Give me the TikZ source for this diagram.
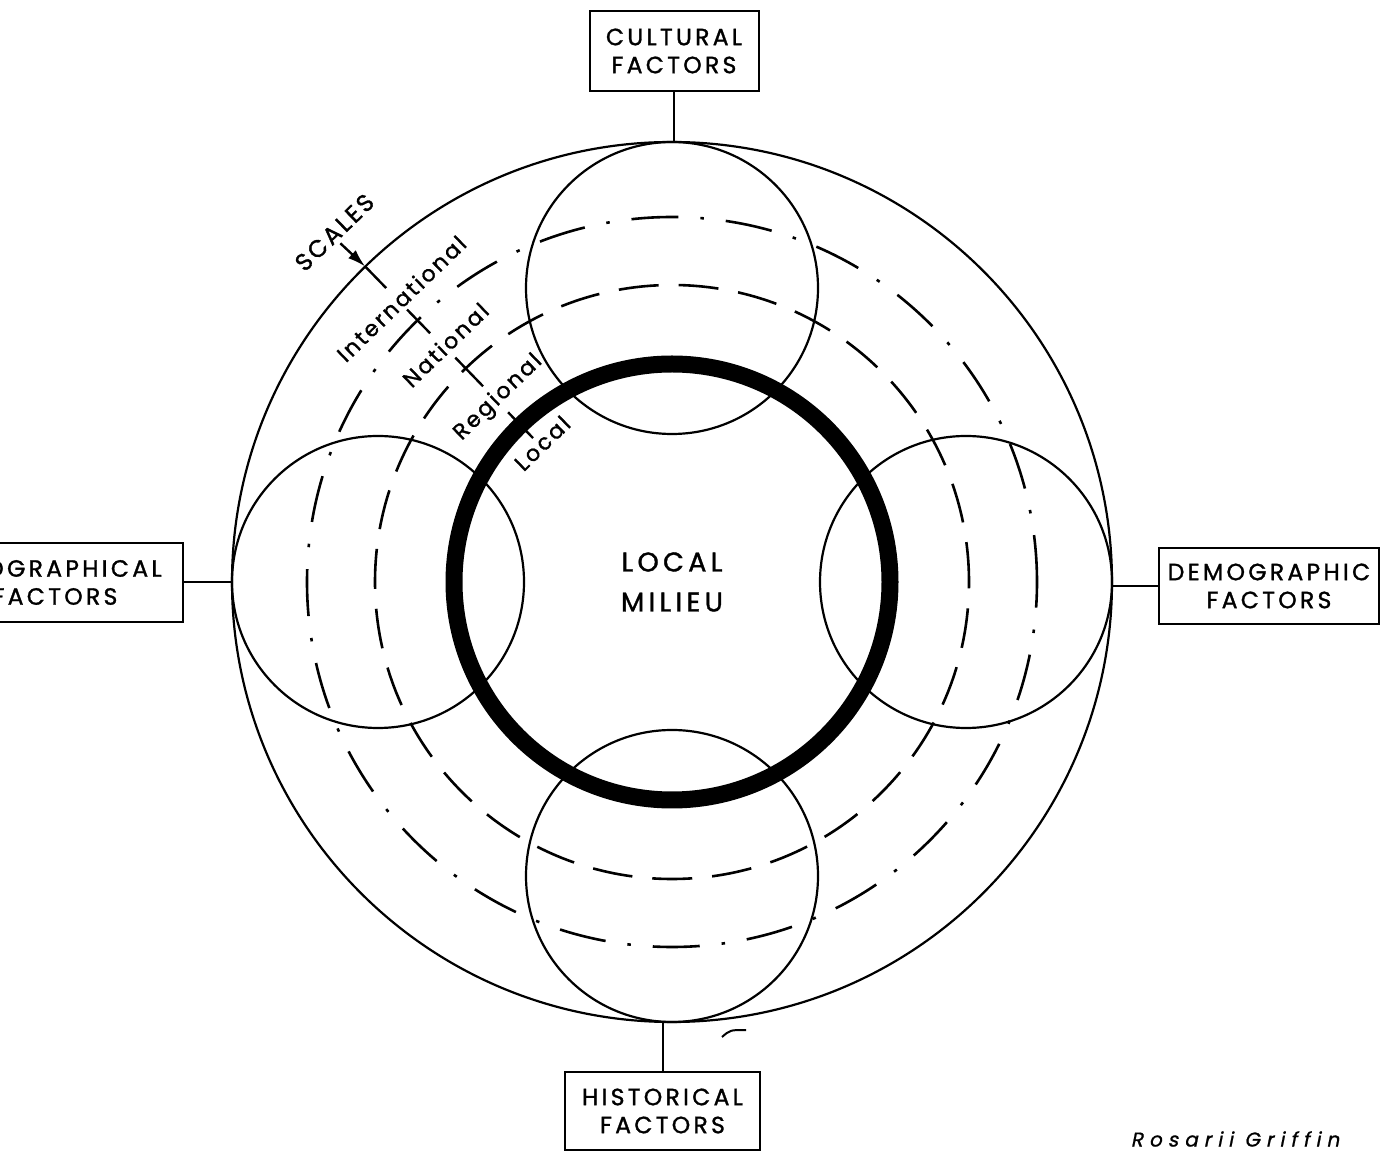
\documentclass[tikz,border=0pt]{standalone}
\usepackage{fontspec}
\setmainfont{Poppins}
\newfontfamily\letterfont[LetterSpace=14,FakeBold=1.3]{Poppins}
\newfontfamily\bandfont[LetterSpace=11,FakeBold=1.3]{Poppins}
\newfontfamily\centrefont[LetterSpace=16,FakeBold=1.3]{Poppins}
\newfontfamily\signfont[LetterSpace=30,FakeSlant=0.2,FakeBold=1]{Poppins}
\usetikzlibrary{arrows.meta,calc}

\tikzset{
  ring/.style={circle, draw, line width=2.2pt, inner sep=0pt, outer sep=0pt},
  factorbox/.style={draw, line width=2pt, align=center, inner sep=0pt,
    font=\letterfont\fontsize{23.5}{28}\selectfont},
  bandlabel/.style={rotate=44, inner sep=0pt,
    font=\bandfont\fontsize{22}{24}\selectfont},
  dashdotline/.style={line width=2.6pt, dash pattern=on 47pt off 22pt on 3.5pt off 22pt},
  dashline/.style={line width=2.6pt, dash pattern=on 40pt off 20pt},
  tick/.style={line width=2.4pt},
  link/.style={line width=2pt},
}

\begin{document}
\begin{tikzpicture}[x=1pt,y=1pt]
\useasboundingbox (0,0) rectangle (1390,1152);
\clip (0,0) rectangle (1390,1152);
\coordinate (C) at (672,570);

% boundaries between the international, national and regional scales
\draw[dashdotline] (C) circle[radius=365];
\draw[dashline] (C) circle[radius=297];

% the four groups of factors
\node[ring, minimum size=292pt] (cultc) at (672,864) {};
\node[ring, minimum size=292pt] (histc) at (672,276) {};
\node[ring, minimum size=292pt] (geoc) at (378,570) {};
\node[ring, minimum size=292pt] (democ) at (966,570) {};

% outer boundary
\node[ring, minimum size=880pt] (outer) at (C) {};

% scale ticks along one radius
\draw[tick] ($(C)+(134.2:440)$) -- ($(C)+(134.2:410)$);
\draw[tick] ($(C)+(134.2:347)$) -- ($(C)+(134.2:380)$);
\draw[tick] ($(C)+(134:272)$) -- ($(C)+(134:312)$);
\draw[tick] ($(C)+(134:200)$) -- ($(C)+(134:236)$);

% local milieu
\node[circle, draw, line width=17pt, minimum size=436pt, inner sep=0pt, align=center,
  font=\centrefont\fontsize{27}{40}\selectfont] (milieu) at (C) {LOCAL\\MILIEU};

% scale labels
\node[rotate=44, inner sep=0pt, font=\bandfont\fontsize{24}{26}\selectfont]
  (scales) at ($(C)+(134:486)$) {SCALES};
\node[bandlabel] (intl) at ($(C)+(133.7:392)$) {International};
\node[bandlabel] (natl) at ($(C)+(133.7:328)$) {National};
\node[bandlabel] (regl) at ($(C)+(133.3:253)$) {Regional};
\node[bandlabel] (locl) at ($(C)+(133.1:190)$) {Local};
\coordinate (arrowtail) at ($(C)+(134.4:474)$);
\coordinate (arrowtip) at ($(C)+(134.2:440)$);
\draw[tick, -{Latex[length=18pt,width=11pt]}] (arrowtail) -- (arrowtip);

% factor boxes
\node[factorbox, minimum width=169pt, minimum height=80pt] (cultural) at (674,1101) {CULTURAL\\FACTORS};
\node[factorbox, minimum width=220pt, minimum height=76pt] (demographic) at (1269,566) {DEMOGRAPHIC\\FACTORS};
\node[factorbox, minimum width=195pt, minimum height=78pt] (historical) at (662.5,41) {HISTORICAL\\FACTORS};
\node[factorbox, minimum width=256pt, minimum height=79pt] (geographical) at (55,569.5) {GEOGRAPHICAL\\FACTORS};

\draw[link] (cultural.south) -- (cultural.south |- outer.north);
\draw[link] (historical.north) -- (historical.north |- outer.south);
\draw[link] (geographical.east) -- (geographical.east -| outer.west);
\draw[link] (demographic.west) -- (demographic.west -| outer.east);

% stray pen mark below the circle
\draw[line width=2pt] (722,115) .. controls (730,122) .. (746,122);

% signature
\node[font=\signfont\fontsize{20}{22}\selectfont, inner sep=0pt] (sign) at (1235,13) {Rosarii Griffin};
\end{tikzpicture}
\end{document}
